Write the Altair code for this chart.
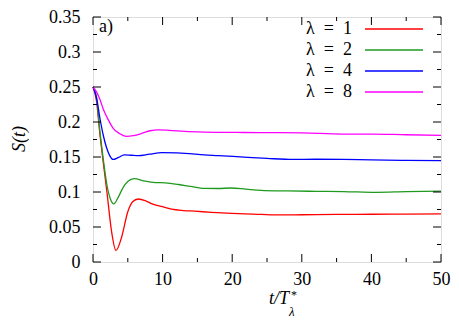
import altair as alt
import pandas as pd

# ---- data ----
series_names = ["λ\u2002=\u20021", "λ\u2002=\u20022", "λ\u2002=\u20024", "λ\u2002=\u20028"]
series_colors = ["#ff0000", "#1f9a1f", "#0000ff", "#ff00ff"]

t_l1 = [0, 0.5, 1.0, 1.5, 2.0, 2.65, 3.3, 4.1, 5.0, 5.7, 6.5, 7.5, 8.5, 10, 11.3, 13, 14.6, 17, 20, 23, 26.5, 30, 35, 40, 45, 50]
s_l1 = [0.25, 0.23, 0.182, 0.14, 0.10, 0.045, 0.0165, 0.035, 0.0717, 0.086, 0.09, 0.0877, 0.083, 0.079, 0.0754, 0.0735, 0.0726, 0.071, 0.0695, 0.0685, 0.0672, 0.0675, 0.068, 0.0682, 0.0685, 0.0688]

t_l2 = [0, 0.5, 1.0, 1.5, 2.0, 2.5, 3.0, 3.6, 4.3, 5.0, 5.9, 7.5, 9, 10.4, 12.3, 14, 16, 18, 19.8, 22, 24.1, 28, 32, 36, 40.7, 45, 50]
s_l2 = [0.25, 0.235, 0.186, 0.145, 0.11, 0.09, 0.083, 0.092, 0.106, 0.115, 0.119, 0.1155, 0.1135, 0.113, 0.1107, 0.108, 0.1052, 0.105, 0.1057, 0.104, 0.1024, 0.1015, 0.101, 0.1006, 0.0995, 0.1005, 0.1012]

t_l4 = [0, 0.5, 1.0, 1.5, 1.94, 2.4, 2.9, 3.6, 4.5, 5.5, 6.5, 8.1, 9.9, 12, 13.2, 16, 18, 21.7, 25, 28.8, 32, 35.9, 40, 45, 50]
s_l4 = [0.25, 0.235, 0.205, 0.18, 0.1635, 0.152, 0.1465, 0.149, 0.153, 0.1525, 0.152, 0.154, 0.1562, 0.1558, 0.1553, 0.153, 0.152, 0.1498, 0.148, 0.1465, 0.1468, 0.1465, 0.1458, 0.1452, 0.1447]

t_l8 = [0, 0.5, 1.0, 1.47, 2.2, 2.9, 3.8, 4.8, 5.8, 7.1, 8.2, 9.4, 11, 13.2, 16, 21.7, 26, 30, 35.9, 40, 45, 50]
s_l8 = [0.25, 0.243, 0.232, 0.2187, 0.203, 0.191, 0.1835, 0.1795, 0.1805, 0.184, 0.1875, 0.1888, 0.188, 0.1865, 0.1856, 0.185, 0.1848, 0.1845, 0.1828, 0.1828, 0.1818, 0.181]

x_major = [0, 10, 20, 30, 40, 50]
x_minor = [5, 15, 25, 35, 45]
y_major = [0, 0.05, 0.1, 0.15, 0.2, 0.25, 0.3, 0.35]
y_minor = [0.025, 0.075, 0.125, 0.175, 0.225, 0.275, 0.325]

# ---- build tables ----
rows = []
for name, ts, ss in zip(series_names, [t_l1, t_l2, t_l4, t_l8], [s_l1, s_l2, s_l4, s_l8]):
    for t, s in zip(ts, ss):
        rows.append({"series": name, "t": t, "S": s})
df = pd.DataFrame(rows)

W, H = 348, 245
FONT = "Liberation Serif"
FS = 18

xscale = alt.Scale(domain=[0, 50], nice=False, zero=False)
yscale = alt.Scale(domain=[0, 0.35], nice=False, zero=False)

x_enc = alt.X("t:Q", scale=xscale, title=None,
              axis=alt.Axis(values=x_major, grid=False, domain=False, ticks=False, tickSize=0,
                            labelPadding=8, labelFont=FONT, labelFontSize=FS, labelColor="black",
                            labelFlush=False))
y_enc = alt.Y("S:Q", scale=yscale, title=None,
              axis=alt.Axis(values=y_major, grid=False, domain=False, ticks=False, tickSize=0,
                            labelPadding=13, labelFont=FONT, labelFontSize=FS, labelColor="black",
                            format=".2~f", labelFlush=False))

lines = alt.Chart(df).mark_line(strokeWidth=1.3, interpolate="monotone").encode(
    x=x_enc, y=y_enc,
    color=alt.Color("series:N", scale=alt.Scale(domain=series_names, range=series_colors), legend=None),
    order=alt.Order("t:Q"),
)

def xt(vals):
    return alt.Chart(pd.DataFrame({"t": vals}))

def yt(vals):
    return alt.Chart(pd.DataFrame({"S": vals}))

tick_layers = []
for vals, ln in [(x_major, 8), (x_minor, 4)]:
    tick_layers.append(xt(vals).mark_rule(color="black", strokeWidth=1).encode(
        x=x_enc, y=alt.value(H), y2=alt.value(H - ln)))
    tick_layers.append(xt(vals).mark_rule(color="black", strokeWidth=1).encode(
        x=x_enc, y=alt.value(0), y2=alt.value(ln)))
for vals, ln in [(y_major, 8), (y_minor, 4)]:
    tick_layers.append(yt(vals).mark_rule(color="black", strokeWidth=1).encode(
        y=y_enc, x=alt.value(0), x2=alt.value(ln)))
    tick_layers.append(yt(vals).mark_rule(color="black", strokeWidth=1).encode(
        y=y_enc, x=alt.value(W), x2=alt.value(W - ln)))

# ---- legend (inside, top right) ----
legend_layers = []
row_y = [12, 33, 54, 75]
for name, col, yy in zip(series_names, series_colors, row_y):
    legend_layers.append(alt.Chart(pd.DataFrame({"label": [name]})).mark_text(
        font=FONT, fontSize=FS, align="right", baseline="middle", color="black").encode(
        text="label:N", x=alt.value(259), y=alt.value(yy)))
    legend_layers.append(alt.Chart(pd.DataFrame({"label": [name]})).mark_rule(
        color=col, strokeWidth=1.3).encode(
        x=alt.value(272), x2=alt.value(330), y=alt.value(yy)))

# ---- annotations / titles ----
def txt(s, x, y, size=FS, align="left", baseline="alphabetic", style="normal", angle=0):
    return alt.Chart(pd.DataFrame({"s": [s]})).mark_text(
        font=FONT, fontSize=size, align=align, baseline=baseline, fontStyle=style,
        angle=angle, color="black").encode(text="s:N", x=alt.value(x), y=alt.value(y))

annots = [
    txt("a)", 6, 10, baseline="middle"),
    txt("S(t)", -73, 122, align="center", baseline="middle", style="italic", angle=270),
    txt("t/T", 196, 287, align="right", style="italic"),
    txt("*", 198, 282, size=12, align="left"),
    txt("λ", 196, 299, size=13, align="left", style="italic"),
]

chart = alt.layer(lines, *tick_layers, *legend_layers, *annots).properties(
    width=W, height=H,
    padding={"left": 85, "top": 9, "right": 10, "bottom": 57},
    autosize=alt.AutoSizeParams(type="none"),
).configure_view(stroke="black", strokeWidth=1).configure(background="white")

chart.save("out.html", embed_options={"renderer": "svg", "actions": False})
